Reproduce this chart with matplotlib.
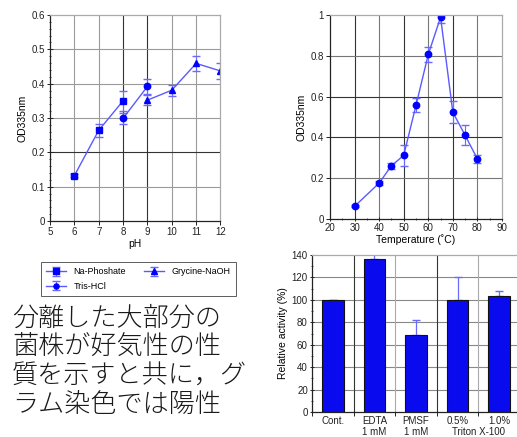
import matplotlib
matplotlib.use("Agg")
import matplotlib.pyplot as plt
from matplotlib.ticker import MultipleLocator, FixedLocator, FuncFormatter
from matplotlib.transforms import offset_copy
import numpy as np

plt.rcParams['font.family'] = ['Liberation Sans', 'DejaVu Sans']

# ---- pH data ----
ph_na = [6, 7, 8]
od_na = [0.132, 0.264, 0.350]
err_na = [0.004, 0.018, 0.030]
ph_tris = [8, 9]
od_tris = [0.299, 0.392]
err_tris = [0.017, 0.022]
ph_gly = [9, 10, 11, 12]
od_gly = [0.352, 0.381, 0.459, 0.437]
err_gly = [0.015, 0.016, 0.021, 0.024]

# ---- Temperature data ----
temp = [30, 40, 45, 50, 55, 60, 65, 70, 75, 80]
od_temp = [0.062, 0.176, 0.261, 0.312, 0.557, 0.807, 0.989, 0.523, 0.410, 0.294]
err_temp = [0.005, 0.008, 0.015, 0.052, 0.034, 0.037, 0.027, 0.054, 0.049, 0.020]

# ---- Bar data ----
bar_labels = ["Cont.", "EDTA\n1 mM", "PMSF\n1 mM", "0.5%", "1.0%"]
bar_values = [100, 136.5, 68.5, 99.5, 103.5]
bar_err = [0, 4.5, 13.5, 21, 4.5]
group_label = "Triton X-100"

jp_lines = ["分離した大部分の", "菌株が好気性の性", "質を示すと共に，グ", "ラム染色では陽性"]

W, H = 517, 437
fig = plt.figure(figsize=(W / 100, H / 100), dpi=100)

LINE_C = '#5a5aff'
MARK_C = '#0000ff'
ERR_C = '#6a6aff'
DARK_G = '#333333'
LIGHT_G = '#9a9a9a'
MS = 4.6


def frac(l, t, r, b):
    return [l / W, 1 - b / H, (r - l) / W, (b - t) / H]


def style_axes(ax):
    for s in ['left', 'bottom']:
        ax.spines[s].set_color('#222222')
        ax.spines[s].set_linewidth(0.9)
    for s in ['top', 'right']:
        ax.spines[s].set_color('#aaaaaa')
        ax.spines[s].set_linewidth(0.9)
    ax.tick_params(labelsize=7, length=3, width=0.7, direction='out', pad=1.5,
                   colors='#222222')
    ax.tick_params(which='minor', length=2, width=0.5, direction='inout')


# ---------- pH plot ----------
ax1 = fig.add_axes(frac(50, 15, 220.5, 221))
ax1.set_xlim(5, 12)
ax1.set_ylim(0, 0.6)
ax1.xaxis.set_major_locator(MultipleLocator(1))
ax1.yaxis.set_major_locator(MultipleLocator(0.1))
ax1.yaxis.set_minor_locator(MultipleLocator(0.02))
ax1.yaxis.set_major_formatter(FuncFormatter(lambda v, p: '0' if abs(v) < 1e-9 else f'{v:.1f}'))
for x in range(6, 12):
    ax1.axvline(x, color=DARK_G if x in (8, 9) else LIGHT_G, lw=0.8, zorder=0)
for y in [0.1, 0.2, 0.3, 0.4, 0.5]:
    ax1.axhline(y, color=DARK_G if y == 0.2 else LIGHT_G, lw=0.8, zorder=0)
style_axes(ax1)
ax1.tick_params(axis='y', direction='inout', length=4)
kw = dict(color=LINE_C, ms=MS, mfc=MARK_C, mec=MARK_C, ecolor=ERR_C,
          elinewidth=0.8, capsize=3, lw=1)
h_na = ax1.errorbar(ph_na, od_na, yerr=err_na, marker='s', label='Na-Phoshate', **kw)
h_tris = ax1.errorbar(ph_tris, od_tris, yerr=err_tris, marker='o', label='Tris-HCl', **kw)
h_gly = ax1.errorbar(ph_gly, od_gly, yerr=err_gly, marker='^', label='Grycine-NaOH', **kw)
ax1.set_xlabel('pH', fontsize=7.5, labelpad=1.5)
ax1.set_ylabel('OD335nm', fontsize=7.5, labelpad=3)

# ---------- Temperature plot ----------
ax2 = fig.add_axes(frac(330, 15, 502, 219))
ax2.set_xlim(20, 90)
ax2.set_ylim(0, 1)
ax2.xaxis.set_major_locator(MultipleLocator(10))
ax2.xaxis.set_minor_locator(MultipleLocator(5))
ax2.yaxis.set_major_locator(MultipleLocator(0.2))
ax2.yaxis.set_major_formatter(FuncFormatter(
    lambda v, p: '0' if abs(v) < 1e-9 else ('1' if abs(v - 1) < 1e-9 else f'{v:.1f}')))
for x in range(30, 90, 10):
    ax2.axvline(x, color=DARK_G if x in (30, 50, 70) else '#777777', lw=0.8, zorder=0)
for y in [0.2, 0.4, 0.6, 0.8]:
    ax2.axhline(y, color=DARK_G if y in (0.4, 0.6) else '#777777', lw=0.8, zorder=0)
style_axes(ax2)
ax2.tick_params(axis='x', which='both', direction='inout')
ax2.errorbar(temp, od_temp, yerr=err_temp, marker='o', **kw)
ax2.set_xlabel('Temperature (˚C)', fontsize=7.5, labelpad=1)
ax2.set_ylabel('OD335nm', fontsize=7.5, labelpad=3)

# ---------- Bar plot ----------
ax3 = fig.add_axes(frac(312, 255, 520, 412))
xpos = np.arange(len(bar_values))
ax3.set_xlim(-0.5, len(bar_values) - 0.5)
ax3.set_ylim(0, 140)
ax3.yaxis.set_major_locator(MultipleLocator(20))
ax3.yaxis.set_minor_locator(MultipleLocator(10))
for y in range(20, 140, 20):
    ax3.axhline(y, color='#888888', lw=0.8, zorder=0)
for i, x in enumerate([0.5, 1.5, 2.5, 3.5]):
    ax3.axvline(x, color=DARK_G if i % 2 == 0 else '#aaaaaa', lw=0.8, zorder=0)
ax3.bar(xpos, bar_values, width=0.52, color='#0a0aee', edgecolor='#111111', lw=0.8, zorder=2)
ax3.errorbar(xpos, bar_values, yerr=[np.zeros(len(bar_err)), bar_err], fmt='none',
             ecolor=ERR_C, elinewidth=0.9, capsize=3, zorder=1)
ax3.xaxis.set_major_locator(FixedLocator([-0.5, 0.5, 1.5, 2.5, 3.5, 4.5]))
ax3.set_xticklabels([])
style_axes(ax3)
ax3.tick_params(axis='y', which='both', direction='inout')
for x, lab in zip(xpos, bar_labels):
    ax3.text(x, -4, lab, ha='center', va='top', fontsize=7, linespacing=1.05,
             color='#222222')
tr = offset_copy(ax3.transData, fig=fig, x=0, y=-7 * 1.05 - 0.3, units='points')
ax3.text(3.5, -4, group_label, ha='center', va='top', fontsize=7, color='#222222',
         transform=tr)
ax3.set_ylabel('Relative activity (%)', fontsize=7.5, labelpad=3)

# ---------- Legend ----------
leg = fig.legend([h_na, h_tris, h_gly], ['Na-Phoshate', 'Tris-HCl', 'Grycine-NaOH'],
                 ncol=2, loc='upper left', bbox_to_anchor=(41 / W, 1 - 262 / H),
                 borderaxespad=0, fontsize=6.5, frameon=True, fancybox=False,
                 edgecolor='#333333', handlelength=2.2, columnspacing=2.0,
                 borderpad=0.6, labelspacing=0.6, handletextpad=0.8, markerscale=0.8)
leg.get_frame().set_linewidth(0.7)

# ---------- Japanese text ----------
for i, line in enumerate(jp_lines):
    fig.text(12 / W, 1 - (318 + 29 * i) / H, line, fontsize=18.8, va='center', ha='left',
             family=['Noto Sans CJK JP', 'DejaVu Sans'], color='#1a1a1a',
             fontweight='light')

fig.savefig('out.png', dpi=100)
